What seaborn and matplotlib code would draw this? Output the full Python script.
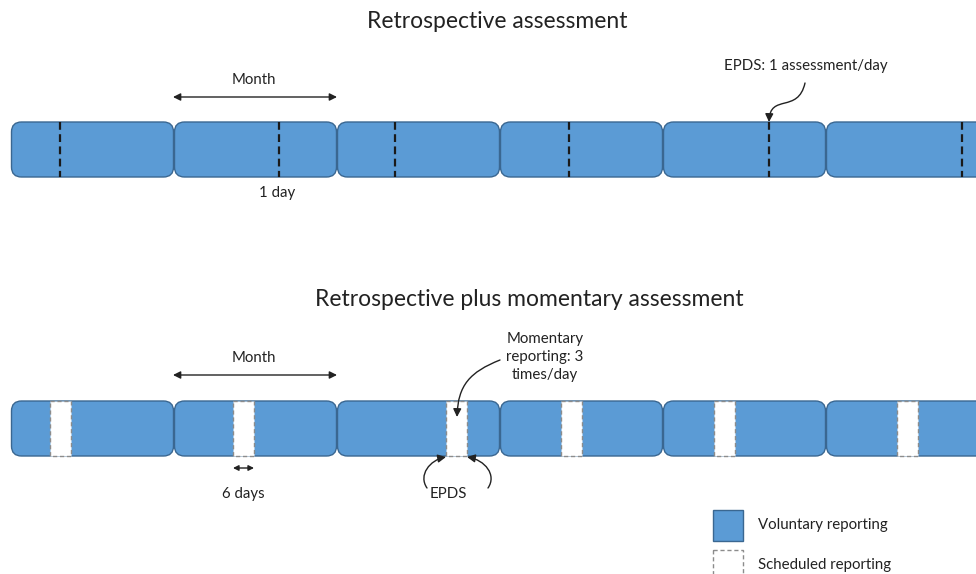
import numpy as np
import matplotlib
matplotlib.use("Agg")
import matplotlib.pyplot as plt
from matplotlib.patches import FancyBboxPatch, Rectangle, FancyArrowPatch
from matplotlib.path import Path
import seaborn as sns

# layout values (pixel units of the 976x574 canvas)
month_start = [11, 174, 337, 500, 663, 826]
month_len = 163
epds_day_x = [60, 279, 395, 569, 769, 962]
scheduled_x = [50, 233, 446, 561, 714, 897]
scheduled_len = 21
bar_top = [122, 401]
bar_h = 55

titles = ["Retrospective assessment", "Retrospective plus momentary assessment"]
legend_labels = ["Voluntary reporting", "Scheduled reporting"]

sns.set_theme(style="white")
plt.rcParams['font.family'] = ['Lato', 'DejaVu Sans']

blue = "#5B9BD5"
edge = "#3A6791"
ink = "#222222"
small = 10.8

fig = plt.figure(figsize=(9.76, 5.74), dpi=100)
ax = fig.add_axes([0, 0, 1, 1])
ax.set_xlim(0, 976)
ax.set_ylim(574, 0)
ax.axis('off')


def draw_bar(y0):
    for x0 in month_start:
        ax.add_patch(FancyBboxPatch((x0 + 0.5, y0), month_len - 1, bar_h,
                                    boxstyle="round,pad=0,rounding_size=10",
                                    fc=blue, ec=edge, lw=1.0))


def curve(p0, c1, c2, p1):
    path = Path([p0, c1, c2, p1], [Path.MOVETO, Path.CURVE4, Path.CURVE4, Path.CURVE4])
    ax.add_patch(FancyArrowPatch(path=path, arrowstyle="-|>", mutation_scale=12,
                                 color=ink, lw=1.0))


def span_arrow(x0, x1, y, scale=11):
    ax.annotate("", xy=(x1, y), xytext=(x0, y),
                arrowprops=dict(arrowstyle="<|-|>", color=ink, lw=1.0,
                                mutation_scale=scale, shrinkA=0, shrinkB=0))


# top: retrospective
ax.text(497, 22, titles[0], ha='center', va='center', fontsize=16.5, color=ink)
draw_bar(bar_top[0])
for x in epds_day_x:
    ax.plot([x, x], [bar_top[0], bar_top[0] + bar_h], color="#1a1a1a", lw=1.6,
            linestyle=(0, (3.5, 2)))
span_arrow(173, 337, 97)
ax.text(254, 80, "Month", ha='center', va='center', fontsize=small, color=ink)
ax.text(277, 193, "1 day", ha='center', va='center', fontsize=small, color=ink)
ax.text(806, 66, "EPDS: 1 assessment/day", ha='center', va='center', fontsize=small, color=ink)
curve((805, 83), (798, 114), (770, 93), (769, 122))

# bottom: retrospective plus momentary
ax.text(529, 300, titles[1], ha='center', va='center', fontsize=16.5, color=ink)
draw_bar(bar_top[1])
for x in scheduled_x:
    ax.add_patch(Rectangle((x, bar_top[1]), scheduled_len, bar_h, fc="white",
                           ec="#8c8c8c", lw=1.0, linestyle=(0, (3, 2))))
span_arrow(173, 337, 375)
ax.text(254, 358, "Month", ha='center', va='center', fontsize=small, color=ink)
span_arrow(scheduled_x[1], scheduled_x[1] + scheduled_len, 468, scale=8)
ax.text(243, 494, "6 days", ha='center', va='center', fontsize=small, color=ink)
ax.text(545, 357, "Momentary\nreporting: 3\ntimes/day", ha='center', va='center',
        fontsize=small, color=ink, linespacing=1.35)
curve((500, 360), (470, 372), (458, 385), (457, 417))
ax.text(448, 494, "EPDS", ha='center', va='center', fontsize=small, color=ink)
curve((427, 488), (418, 475), (430, 460), (446, 457))
curve((488, 488), (497, 475), (485, 460), (467, 457))

# legend
ax.add_patch(Rectangle((713, 510), 30, 31, fc=blue, ec=edge, lw=1.0))
ax.add_patch(Rectangle((713, 550), 30, 31, fc="white", ec="#8c8c8c", lw=1.0,
                       linestyle=(0, (3, 2))))
ax.text(758, 525, legend_labels[0], ha='left', va='center', fontsize=small, color=ink)
ax.text(758, 565, legend_labels[1], ha='left', va='center', fontsize=small, color=ink)

fig.savefig("out.png", dpi=100, facecolor="white")
